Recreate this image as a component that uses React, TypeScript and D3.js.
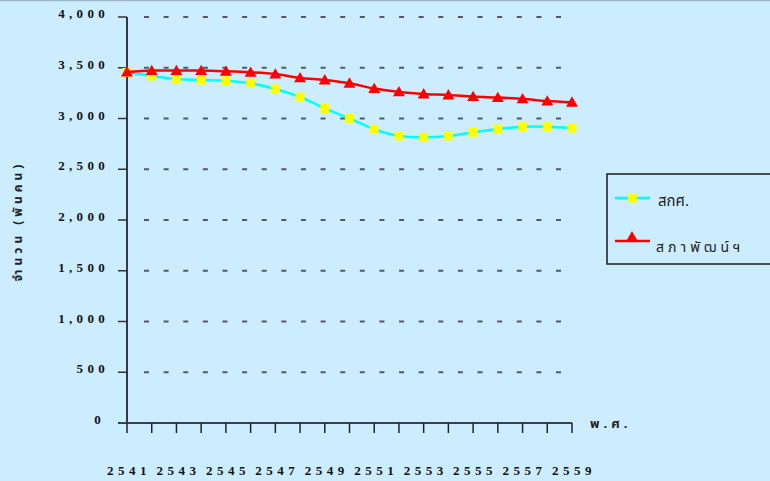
// Thai population line chart (สกศ. vs สภาพัฒน์ฯ), 2541–2559, thousands of people.
import { useEffect } from "react";
import * as d3 from "d3";

const years = d3.range(2541, 2560);
const onec = [3455, 3419, 3388, 3379, 3372, 3347, 3291, 3212, 3100, 3001, 2894, 2828, 2815, 2828, 2864, 2897, 2919, 2919, 2906];
const nesdb = [3458, 3472, 3472, 3472, 3465, 3455, 3438, 3400, 3380, 3348, 3295, 3262, 3242, 3232, 3216, 3206, 3194, 3172, 3160];
const yTicks = [0, 500, 1000, 1500, 2000, 2500, 3000, 3500, 4000];
const xLabels = years.filter((y) => (y - 2541) % 2 === 0);
const seriesNames = ["สกศ.", "สภาพัฒน์ฯ"];

const W = 770, H = 481;
const BG = "#CCECFF";
const SERIF = "'Liberation Serif', 'Times New Roman', serif";
const SANS = "Tahoma, 'Noto Sans Thai', 'Noto Sans', sans-serif";

export default function App() {
  useEffect(() => { document.body.style.margin = "0"; }, []);

  const x = d3.scaleLinear().domain([2541, 2559]).range([127, 572]);
  const y = d3.scaleLinear().domain([0, 4000]).range([423, 17]);
  const line = d3.line<number>()
    .x((_, i) => x(years[i]))
    .y((v) => y(v))
    .curve(d3.curveCatmullRom.alpha(0.5));
  const tri = d3.symbol(d3.symbolTriangle, 62)();
  const fmt = d3.format(",");

  return (
    <svg width={W} height={H} style={{ position: "absolute", left: 0, top: 0, display: "block" }}>
      <rect width={W} height={H} fill={BG} />
      <line x1={0} x2={W} y1={0.5} y2={0.5} stroke="#9db4c9" strokeWidth={1.5} />

      {/* dashed gridlines */}
      {yTicks.filter((t) => t > 0).map((t) => (
        <line key={t} x1={x(2541) + 17} x2={x(2559) - 10} y1={y(t)} y2={y(t)}
              stroke="#4f5b66" strokeWidth={2} strokeDasharray="5 14.62" />
      ))}

      {/* y axis */}
      <line x1={x(2541)} x2={x(2541)} y1={y(4000)} y2={y(0)} stroke="#000" strokeWidth={1.5} />
      {yTicks.map((t) => (
        <g key={t}>
          <line x1={x(2541) - 9} x2={x(2541)} y1={y(t)} y2={y(t)} stroke="#333" strokeWidth={1.5} />
          <text x={t === 0 ? 105 : 109} y={y(t) + 1} textAnchor="end" fontFamily={SERIF}
                fontWeight="bold" fontSize={13} letterSpacing={4.3} fill="#111">
            {fmt(t)}
          </text>
        </g>
      ))}

      {/* x axis */}
      <line x1={x(2541) - 9} x2={x(2559)} y1={y(0)} y2={y(0)} stroke="#3a4148" strokeWidth={2} />
      {years.map((yr) => (
        <line key={yr} x1={x(yr)} x2={x(yr)} y1={y(0)} y2={y(0) + 10} stroke="#222" strokeWidth={1.5} />
      ))}
      {xLabels.map((yr) => (
        <text key={yr} x={x(yr) + 2} y={475} textAnchor="middle" fontFamily={SERIF}
              fontWeight="bold" fontSize={13} letterSpacing={4.5} fill="#111">
          {yr}
        </text>
      ))}
      <text x={590} y={428} fontFamily={SANS} fontWeight="bold" fontSize={13}
            letterSpacing={4} fill="#222">พ.ศ.</text>

      {/* y label */}
      <text transform="translate(22,221) rotate(-90)" textAnchor="middle" fontFamily={SANS}
            fontWeight="bold" fontSize={12} letterSpacing={4} fill="#222">
        จำนวน (พันคน)
      </text>

      {/* series */}
      <path d={line(onec) ?? ""} fill="none" stroke="#00FFFF" strokeWidth={2.5} />
      {onec.map((v, i) => (
        <rect key={i} x={x(years[i]) - 4.5} y={y(v) - 4.5} width={9} height={9} fill="#FFFF00" />
      ))}
      <path d={line(nesdb) ?? ""} fill="none" stroke="#FF0000" strokeWidth={2.5} />
      {nesdb.map((v, i) => (
        <path key={i} d={tri ?? ""} transform={`translate(${x(years[i])},${y(v) + 1})`} fill="#FF0000" />
      ))}

      {/* legend */}
      <rect x={607} y={174} width={200} height={90} fill="none" stroke="#1a1a1a" strokeWidth={1.5} />
      <line x1={615} x2={650} y1={198} y2={198} stroke="#00FFFF" strokeWidth={2.5} />
      <rect x={628} y={193.5} width={9} height={9} fill="#FFFF00" />
      <text x={658} y={206} fontFamily={SANS} fontSize={15} fill="#222">{seriesNames[0]}</text>
      <line x1={615} x2={650} y1={241} y2={241} stroke="#FF0000" strokeWidth={2.5} />
      <path d={tri ?? ""} transform="translate(632,238)" fill="#FF0000" />
      <text x={656} y={252} fontFamily={SANS} fontSize={14} letterSpacing={4} fill="#222">{seriesNames[1]}</text>
    </svg>
  );
}
